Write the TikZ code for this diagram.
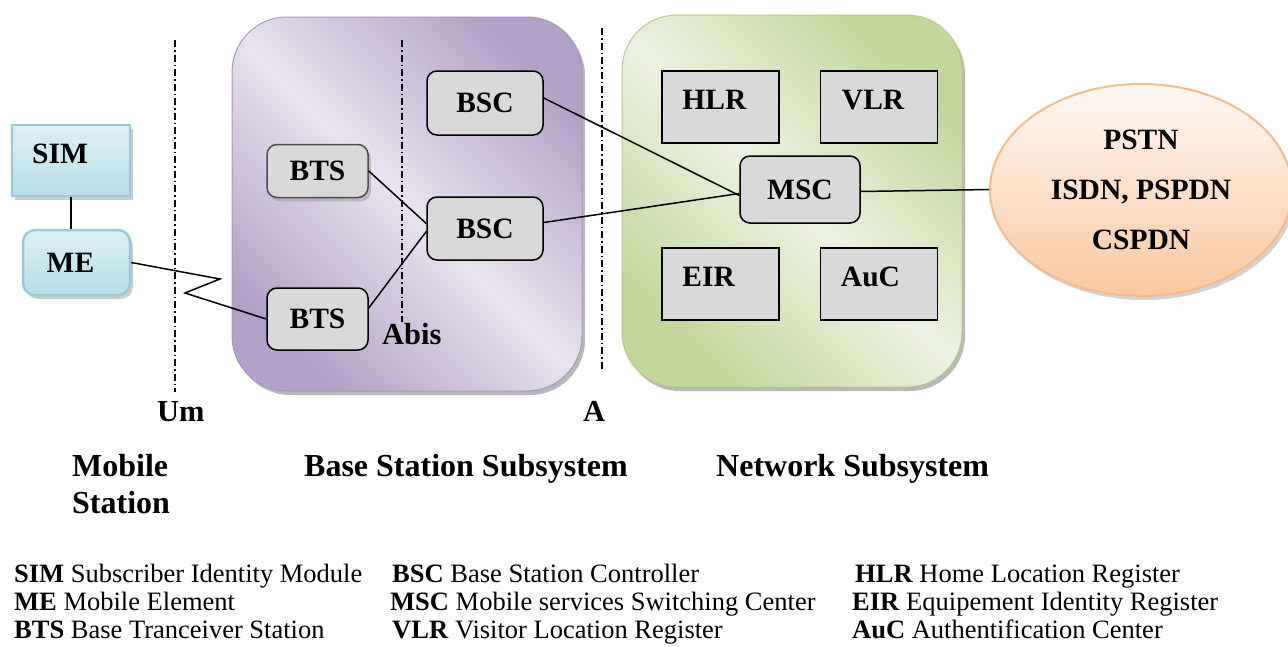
\documentclass[tikz,border=0pt]{standalone}
\usepackage{fontspec}
\setmainfont{Liberation Serif}
\usetikzlibrary{shapes.geometric,shadows,calc}

\definecolor{purpdark}{HTML}{B3A2C7}
\definecolor{purplight}{HTML}{E8E3EF}
\definecolor{purpedge}{HTML}{A896C2}
\definecolor{grndark}{HTML}{C3D69B}
\definecolor{grnlight}{HTML}{ECF2E1}
\definecolor{grnedge}{HTML}{B5CC88}
\definecolor{peachtop}{HTML}{FFF8F4}
\definecolor{peachbot}{HTML}{FAC8A0}
\definecolor{peachedge}{HTML}{F8BA88}
\definecolor{bluetop}{HTML}{DDF0F5}
\definecolor{bluebot}{HTML}{B7DEE8}
\definecolor{blueedge}{HTML}{93CDDD}
\definecolor{boxgray}{HTML}{D9D9D9}

\newcommand\unitfont{\fontsize{29.5}{35}\selectfont\bfseries}
\newcommand\titlefont{\fontsize{32}{38}\selectfont\bfseries}
\newcommand\ifacefont{\fontsize{30.5}{36}\selectfont\bfseries}
\newcommand\keyfont{\fontsize{26.5}{30}\selectfont}

\tikzset{
  subsys/.style={rounded corners=55pt, line width=1pt,
    drop shadow={shadow xshift=3pt, shadow yshift=-4pt, fill=black!35, opacity=0.8}},
  mobbox/.style={draw=blueedge, line width=2.5pt, top color=bluetop, bottom color=bluebot,
    font=\unitfont, inner sep=0pt,
    drop shadow={shadow xshift=3pt, shadow yshift=-4pt, fill=black!40}},
  unitbox/.style={draw=black, line width=1.5pt, fill=boxgray, rounded corners=10pt,
    font=\unitfont, inner sep=0pt},
  regbox/.style={draw=black, line width=1.5pt, fill=boxgray, rectangle, inner sep=0pt,
    minimum width=117pt, minimum height=72pt},
  reglabel/.style={font=\unitfont, anchor=west, inner sep=0pt},
  iface/.style={line width=1.4pt, dash pattern=on 7pt off 3pt on 1.5pt off 3pt},
  link/.style={line width=1.5pt},
  biglabel/.style={font=\titlefont, anchor=base west, inner sep=0pt},
  ifacelabel/.style={font=\ifacefont, anchor=base west, inner sep=0pt},
  keyline/.style={font=\keyfont, anchor=base west, inner sep=0pt}
}

\begin{document}
\begin{tikzpicture}[x=1pt,y=-1pt]
\useasboundingbox (0,0) rectangle (1288,646);

% subsystem backgrounds
\path[subsys, draw=purpedge, top color=purpdark, bottom color=purpdark, middle color=purplight,
  shading angle=-45] (232,17) rectangle (582,391);
\path[subsys, draw=grnedge, top color=grndark, bottom color=grndark, middle color=grnlight,
  shading angle=-45] (622,15) rectangle (962,387);

% interface boundaries
\draw[iface] (175,40) coordinate (um1) -- (175,392) coordinate (um2);
\draw[iface] (402,40) coordinate (ab1) -- (402,322) coordinate (ab2);
\draw[iface] (602,28) coordinate (a1) -- (602,370) coordinate (a2);

% mobile station
\node[mobbox, rectangle, minimum width=118pt, minimum height=71pt, text depth=14pt]
  (sim) at (71,160.5) {SIM\hspace*{22pt}};
\node[mobbox, rounded corners=12pt, minimum width=107pt, minimum height=65pt]
  (me) at (76.5,262.5) {ME\hspace*{12pt}};

% base station subsystem
\node[unitbox, draw=black!70, minimum width=101pt, minimum height=53pt,
  drop shadow={shadow xshift=3pt, shadow yshift=-4pt, fill=black!40}] (bts1) at (317.5,171) {BTS};
\node[unitbox, minimum width=101pt, minimum height=62pt] (bts2) at (317.5,319) {BTS};
\node[unitbox, minimum width=116pt, minimum height=64pt] (bsc1) at (485,103) {BSC};
\node[unitbox, minimum width=116pt, minimum height=63pt] (bsc2) at (485,228.5) {BSC};

% network subsystem
\node[regbox] (hlr) at (720.5,107) {};
\node[regbox] (vlr) at (879,107) {};
\node[regbox] (eir) at (720.5,284) {};
\node[regbox] (auc) at (879,284) {};
\node[reglabel] at ([xshift=21pt,yshift=7pt]hlr.west) {HLR};
\node[reglabel] at ([xshift=22pt,yshift=7pt]vlr.west) {VLR};
\node[reglabel] at ([xshift=21pt,yshift=7pt]eir.west) {EIR};
\node[reglabel] at ([xshift=21pt,yshift=7pt]auc.west) {AuC};
\node[unitbox, minimum width=120pt, minimum height=67pt] (msc) at (800,189.5) {MSC};

% external networks
\node[ellipse, draw=peachedge, line width=2pt, top color=peachtop, bottom color=peachbot,
  minimum width=302pt, minimum height=212pt, inner sep=0pt, align=center,
  font=\fontsize{29.5}{50}\selectfont\bfseries,
  drop shadow={shadow xshift=3pt, shadow yshift=-4pt, fill=black!35}] (pstn) at (1141,190)
  {PSTN\\ISDN, PSPDN\\CSPDN};

% connectors
\draw[link] (sim.south) -- (sim.south |- me.north);
\coordinate (zz1) at (220,279);
\coordinate (zz2) at (185,293);
\draw[link] (me.east) -- (zz1) -- (zz2) -- (bts2.west);
\draw[link] (bts1.east) -- ([yshift=5pt]bsc2.west);
\draw[link] ([yshift=11pt]bts2.east) -- ([yshift=-3pt]bsc2.west);
\draw[link] ([yshift=5pt]bsc1.east) -- ([yshift=-6pt]msc.west);
\draw[link] ([yshift=6pt]bsc2.east) -- ([yshift=-4pt]msc.west);
\draw[link] ([yshift=-2pt]msc.east) -- (msc.east -| pstn.west);

% interface names
\node[ifacelabel] (umlbl) at (157,421) {Um};
\node[ifacelabel] (alabel) at (583,421) {A};
\node[ifacelabel] (abislbl) at (382,344) {Abis};

% subsystem names
\node[biglabel] (msname1) at (72,476) {Mobile};
\node[biglabel] (msname2) at (72,513) {Station};
\node[biglabel] (bssname) at (304,476) {Base Station Subsystem};
\node[biglabel] (nssname) at (716,476) {Network Subsystem};

% abbreviations
\node[keyline] (k1) at (14,582) {\textbf{SIM} Subscriber Identity Module};
\node[keyline] (k2) at (14,610) {\textbf{ME} Mobile Element};
\node[keyline] (k3) at (14,638) {\textbf{BTS} Base Tranceiver Station};
\node[keyline] (k4) at (392,582) {\textbf{BSC} Base Station Controller};
\node[keyline] (k5) at (390,610) {\textbf{MSC} Mobile services Switching Center};
\node[keyline] (k6) at (392,638) {\textbf{VLR} Visitor Location Register};
\node[keyline] (k7) at (855,582) {\textbf{HLR} Home Location Register};
\node[keyline] (k8) at (852,610) {\textbf{EIR} Equipement Identity Register};
\node[keyline] (k9) at (852,638) {\textbf{AuC} Authentification Center};
\end{tikzpicture}
\end{document}
